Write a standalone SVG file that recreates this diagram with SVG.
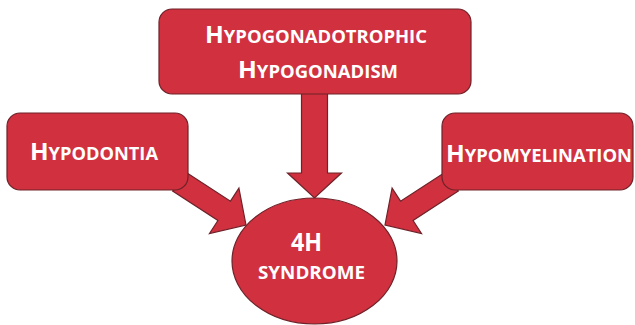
<svg xmlns="http://www.w3.org/2000/svg" width="635" height="325" viewBox="0 0 635 325">
<defs>
<style>
.shape{fill:#d1303f;stroke:#6e2229;stroke-width:1.2}
.t{font-family:"Open Sans","Liberation Sans",Arial,sans-serif;font-weight:bold;fill:#ffffff}
.big{font-size:24px}
.sm{font-size:18px}
</style>
<path id="arrowLR" d="M -80 -11.5 L -26 -11.5 L -26 -27 L 0 0 L -26 27 L -26 11.5 L -80 11.5 Z"/>
</defs>
<rect width="635" height="325" fill="#ffffff"/>
<g id="connectors">
<use href="#arrowLR" class="shape" transform="translate(246,225) rotate(33)"/>
<use href="#arrowLR" class="shape" transform="translate(385,225) rotate(147)"/>
<path class="shape" d="M 301.5 93 L 327.5 93 L 327.5 173 L 341.5 173 L 314.5 198 L 287.5 173 L 301.5 173 Z"/>
</g>
<g id="top">
<rect class="shape" x="159" y="9" width="312" height="85" rx="13"/>
<text class="t" x="205" y="43" textLength="222" lengthAdjust="spacingAndGlyphs"><tspan class="big">H</tspan><tspan class="sm">YPOGONADOTROPHIC</tspan></text>
<text class="t" x="238" y="78" textLength="160" lengthAdjust="spacingAndGlyphs"><tspan class="big">H</tspan><tspan class="sm">YPOGONADISM</tspan></text>
</g>
<g id="left">
<rect class="shape" x="7" y="113" width="181" height="77" rx="13"/>
<text class="t" x="30" y="160" textLength="128" lengthAdjust="spacingAndGlyphs"><tspan class="big">H</tspan><tspan class="sm">YPODONTIA</tspan></text>
</g>
<g id="right">
<rect class="shape" x="442" y="113" width="191" height="77" rx="13"/>
<text class="t" x="446" y="162" textLength="186" lengthAdjust="spacingAndGlyphs"><tspan class="big">H</tspan><tspan class="sm">YPOMYELINATION</tspan></text>
</g>
<g id="center">
<ellipse class="shape" cx="314.5" cy="261" rx="82.5" ry="63"/>
<text class="t" x="306.5" y="251" font-size="25" text-anchor="middle" textLength="31" lengthAdjust="spacingAndGlyphs">4H</text>
<text class="t" x="311.5" y="279" font-size="17" text-anchor="middle" textLength="107" lengthAdjust="spacingAndGlyphs">SYNDROME</text>
</g>
</svg>
